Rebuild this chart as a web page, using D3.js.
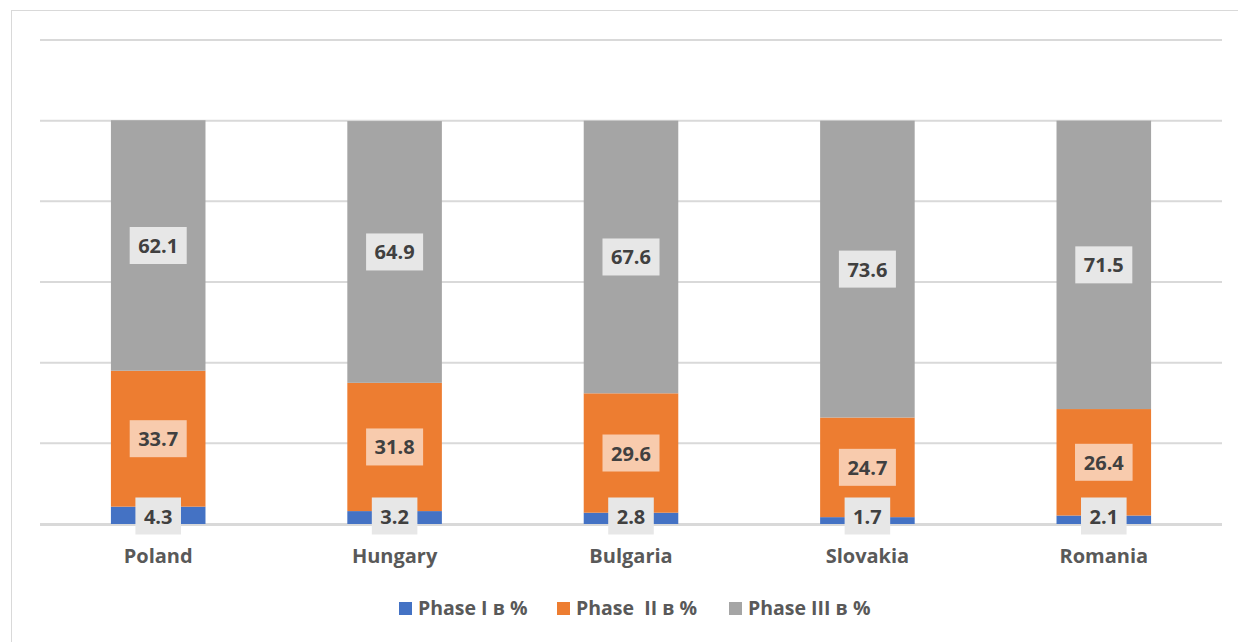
<!DOCTYPE html>
<html>
<head>
<meta charset="utf-8">
<script src="https://cdn.jsdelivr.net/npm/d3@7"></script>
<style>
  body { margin: 0; background: #fff; }
  text { font-family: "Open Sans", Lato, sans-serif; font-weight: bold; }
</style>
</head>
<body>
<div id="chart"></div>
<script>
// data
const countries = ["Poland", "Hungary", "Bulgaria", "Slovakia", "Romania"];
const phase1 = [4.3, 3.2, 2.8, 1.7, 2.1];
const phase2 = [33.7, 31.8, 29.6, 24.7, 26.4];
const phase3 = [62.1, 64.9, 67.6, 73.6, 71.5];
const seriesNames = ["Phase I в %", "Phase  II в %", "Phase III в %"];
const seriesKeys = ["p1", "p2", "p3"];
const colors = ["#4472c4", "#ed7d31", "#a5a5a5"];
const labelBg = ["#e7e7e7", "#f8cbad", "#e7e7e7"];
const gridTicks = [0, 20, 40, 60, 80, 100, 120];

const width = 1238, height = 642;
const plot = { left: 40, right: 1222, top: 40, bottom: 524 };

const svg = d3.select("#chart").append("svg")
  .attr("width", width)
  .attr("height", height);

// chart frame
svg.append("rect")
  .attr("x", 11.5).attr("y", 10.5)
  .attr("width", 1240).attr("height", 640)
  .attr("fill", "none")
  .attr("stroke", "#d9d9d9");

let table = countries.map((c, i) => ({ country: c, p1: phase1[i], p2: phase2[i], p3: phase3[i] }));

let x = d3.scaleBand()
  .domain(countries)
  .range([plot.left, plot.right])
  .paddingInner(0.6)
  .paddingOuter(0.3);

let y = d3.scaleLinear().domain([0, 120]).range([plot.bottom, plot.top]);

// gridlines
svg.append("g").selectAll("line")
  .data(gridTicks)
  .enter().append("line")
  .attr("x1", plot.left).attr("x2", plot.right)
  .attr("y1", d => y(d)).attr("y2", d => y(d))
  .attr("stroke", "#d9d9d9")
  .attr("stroke-width", 2);

let stacked = d3.stack().keys(seriesKeys)(table);

// bars
let layers = svg.append("g").selectAll("g")
  .data(stacked)
  .enter().append("g")
  .attr("fill", (d, i) => colors[i]);

layers.selectAll("rect")
  .data(d => d)
  .enter().append("rect")
  .attr("x", d => x(d.data.country))
  .attr("width", x.bandwidth())
  .attr("y", d => y(d[1]))
  .attr("height", d => y(d[0]) - y(d[1]));

// baseline over bars
svg.append("line")
  .attr("x1", plot.left).attr("x2", plot.right)
  .attr("y1", y(0) + 1).attr("y2", y(0) + 1)
  .attr("stroke", "#d9d9d9")
  .attr("stroke-width", 2);

// data labels with boxes
stacked.forEach((layer, li) => {
  let g = svg.append("g");
  layer.forEach(d => {
    let cx = x(d.data.country) + x.bandwidth() / 2;
    let cy = (y(d[0]) + y(d[1])) / 2;
    if (li === 0) cy = y(d[0]) - 8;
    let t = g.append("text")
      .attr("x", cx).attr("y", cy)
      .attr("text-anchor", "middle")
      .attr("dominant-baseline", "central")
      .attr("font-size", 20)
      .attr("fill", "#404040")
      .text(d3.format(".1f")(d[1] - d[0]));
    let bb = t.node().getBBox();
    g.insert("rect", "text")
      .attr("x", cx - (bb.width + 17) / 2)
      .attr("y", cy - 18.5)
      .attr("width", bb.width + 17)
      .attr("height", 37)
      .attr("fill", labelBg[li]);
  });
});

// category labels
svg.append("g").selectAll("text")
  .data(countries)
  .enter().append("text")
  .attr("x", d => x(d) + x.bandwidth() / 2)
  .attr("y", 563)
  .attr("text-anchor", "middle")
  .attr("font-size", 20)
  .attr("fill", "#595959")
  .text(d => d);

// legend
const legendX = [399, 557, 729];
let legend = svg.append("g").selectAll("g")
  .data(seriesNames)
  .enter().append("g")
  .attr("transform", (d, i) => `translate(${legendX[i]}, 602)`);

legend.append("rect")
  .attr("width", 13).attr("height", 13)
  .attr("fill", (d, i) => colors[i]);

legend.append("text")
  .attr("x", 19).attr("y", 13)
  .attr("font-size", 19.5)
  .attr("fill", "#595959")
  .style("white-space", "pre")
  .text(d => d);
</script>
</body>
</html>
